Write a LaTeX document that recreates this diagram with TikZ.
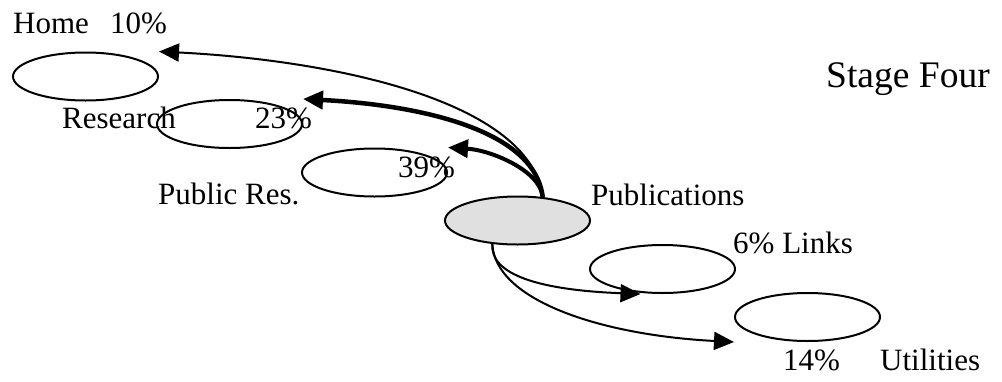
\documentclass[tikz,border=0pt]{standalone}
\usepackage{fontspec}
\setmainfont{Liberation Serif}
\usetikzlibrary{shapes.geometric,arrows.meta}
\tikzset{
  page/.style={x=1pt,y=-1pt},
  oval/.style={ellipse,draw,line width=2pt,minimum width=145pt,minimum height=48pt,inner sep=0pt},
  lbl/.style={anchor=base west,inner sep=0pt,font=\fontsize{31}{36}\selectfont},
  biglbl/.style={anchor=base west,inner sep=0pt,font=\fontsize{37.5}{44}\selectfont},
  link/.style={line width=2pt,-{Triangle[length=20pt,width=18pt]}},
  heavy/.style={line width=4.5pt,-{Triangle[length=20pt,width=18pt]}},
}
\begin{document}
\begin{tikzpicture}[page]
\useasboundingbox (0,0) rectangle (1002,381);
% ellipses
\node[oval] (home) at (85.5,76.5) {};
\node[oval] (research) at (229.5,124) {};
\node[oval] (public) at (374.5,172.5) {};
\node[oval,fill={rgb,255:red,224;green,224;blue,224}] (pubs) at (517.5,220.5) {};
\node[oval] (links) at (662.5,269) {};
\node[oval] (util) at (807.5,317) {};
% labels
\node[lbl] (thome) at (13,33) {Home};
\node[lbl] (thomep) at (110,33) {10\%};
\node[lbl] (tres) at (62,128) {Research};
\node[lbl] (tresp) at (255,128) {23\%};
\node[lbl] (tpub) at (158,204) {Public Res.};
\node[lbl] (tpubp) at (398,177) {39\%};
\node[lbl] (tpubs) at (591,205) {Publications};
\node[lbl] (tlinks) at (733,253) {6\% Links};
\node[lbl] (tutilp) at (783,370) {14\%};
\node[lbl] (tutil) at (880,370) {Utilities};
\node[biglbl] (stage) at (826,87) {Stage Four};
% anchor points
\coordinate (up) at (pubs.43);
\coordinate (down) at (pubs.-137);
\coordinate (links tip) at ([xshift=-22pt]links.south);
% arrows
\draw[link] (up) .. controls (530,100) and (330,60) .. (home.north -| home.east);
\draw[heavy] (up) .. controls (535,130) and (420,105) .. (research.north -| research.east);
\draw[heavy,line width=4pt] (up) .. controls (540,170) and (490,150) .. (public.north -| public.east);
\draw[link] (down) .. controls (490,275) and (540,290) .. (links tip);
\draw[link] (down) .. controls (495,300) and (600,335) .. (util.south -| util.west);
\end{tikzpicture}
\end{document}
